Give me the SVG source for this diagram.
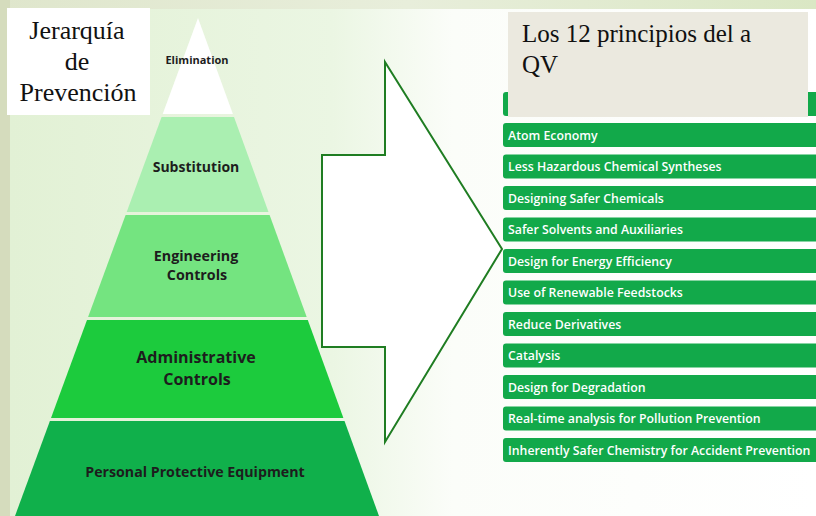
<svg xmlns="http://www.w3.org/2000/svg" width="816" height="516" viewBox="0 0 816 516">
<defs>
<linearGradient id="bg" x1="0" y1="0" x2="1" y2="0">
<stop offset="0" stop-color="#e2f1d5"/>
<stop offset="0.4" stop-color="#ebf6e3"/>
<stop offset="0.55" stop-color="#fbfdf9"/>
<stop offset="1" stop-color="#ffffff"/>
</linearGradient>
<linearGradient id="topstrip" x1="0" y1="0" x2="1" y2="0">
<stop offset="0" stop-color="#dfe6cc"/>
<stop offset="0.5" stop-color="#e8eedb"/>
<stop offset="1" stop-color="#dae7c4"/>
</linearGradient>
<style>
.tier-label{font-family:"Open Sans","Liberation Sans",sans-serif;font-weight:700;fill:#1d1d1d;text-anchor:middle}
.item rect{fill:#12a94a}
.item text{font-family:"Open Sans","Liberation Sans",sans-serif;font-weight:600;font-size:12.3px;fill:#ffffff}
.serif{font-family:"Liberation Serif","Times New Roman",serif;fill:#111111}
</style>
</defs>
<!-- background -->
<rect x="0" y="0" width="816" height="516" fill="url(#topstrip)"/>
<rect x="0" y="0" width="10" height="516" fill="#d5dcbd"/>
<rect x="10" y="9" width="806" height="507" fill="url(#bg)"/>

<!-- pyramid -->
<g id="tier-elimination">
<polygon points="198,18 232.9,114 162.7,114" fill="#ffffff"/>
<text class="tier-label" x="197" y="64" font-size="11">Elimination</text>
</g>
<g id="tier-substitution">
<polygon points="161.6,117 234,117 268.5,212 126.7,212" fill="#aaefb1"/>
<text class="tier-label" x="196" y="172" font-size="14">Substitution</text>
</g>
<g id="tier-engineering">
<polygon points="125.6,215 269.6,215 306.7,317 88.1,317" fill="#74e480"/>
<text class="tier-label" x="196" y="261" font-size="14.3">Engineering</text>
<text class="tier-label" x="197" y="280" font-size="14.3">Controls</text>
</g>
<g id="tier-administrative">
<polygon points="87,320 307.8,320 343.4,418 51,418" fill="#1ccb3d"/>
<text class="tier-label" x="196" y="363" font-size="16">Administrative</text>
<text class="tier-label" x="197" y="385" font-size="16">Controls</text>
</g>
<g id="tier-ppe">
<polygon points="49.9,421 344.5,421 379,516 15,516" fill="#10b04b"/>
<text class="tier-label" x="195" y="477" font-size="14.2">Personal Protective Equipment</text>
</g>

<!-- title box left -->
<g id="title-jerarquia">
<rect x="7" y="8" width="143" height="107" fill="#ffffff"/>
<text class="serif" x="77" y="39" font-size="26" text-anchor="middle">Jerarquía</text>
<text class="serif" x="77" y="70" font-size="26" text-anchor="middle">de</text>
<text class="serif" x="78" y="101" font-size="26" text-anchor="middle">Prevención</text>
</g>

<!-- connector: big arrow -->
<g id="connectors">
<polygon points="385,62 502,249 385,442 385,347 322,347 322,155 385,155" fill="#ffffff" stroke="#1f7d22" stroke-width="2" stroke-linejoin="miter"/>
</g>

<!-- list -->
<g id="header-bar" class="item"><rect x="503" y="92" width="320" height="24" rx="3"/></g>
<g id="title-principios">
<rect x="508" y="12" width="300" height="105" fill="#ebe9df"/>
<text class="serif" x="522" y="42" font-size="25">Los 12 principios del a</text>
<text class="serif" x="522" y="73" font-size="25">QV</text>
</g>
<g id="p1" class="item"><rect x="503" y="123" width="320" height="24" rx="3"/><text x="508" y="139.5">Atom Economy</text></g>
<g id="p2" class="item"><rect x="503" y="154.5" width="320" height="24" rx="3"/><text x="508" y="171">Less Hazardous Chemical Syntheses</text></g>
<g id="p3" class="item"><rect x="503" y="186" width="320" height="24" rx="3"/><text x="508" y="202.5">Designing Safer Chemicals</text></g>
<g id="p4" class="item"><rect x="503" y="217.5" width="320" height="24" rx="3"/><text x="508" y="234">Safer Solvents and Auxiliaries</text></g>
<g id="p5" class="item"><rect x="503" y="249" width="320" height="24" rx="3"/><text x="508" y="265.5">Design for Energy Efficiency</text></g>
<g id="p6" class="item"><rect x="503" y="280.5" width="320" height="24" rx="3"/><text x="508" y="297">Use of Renewable Feedstocks</text></g>
<g id="p7" class="item"><rect x="503" y="312" width="320" height="24" rx="3"/><text x="508" y="328.5">Reduce Derivatives</text></g>
<g id="p8" class="item"><rect x="503" y="343.5" width="320" height="24" rx="3"/><text x="508" y="360">Catalysis</text></g>
<g id="p9" class="item"><rect x="503" y="375" width="320" height="24" rx="3"/><text x="508" y="391.5">Design for Degradation</text></g>
<g id="p10" class="item"><rect x="503" y="406.5" width="320" height="24" rx="3"/><text x="508" y="423">Real-time analysis for Pollution Prevention</text></g>
<g id="p11" class="item"><rect x="503" y="438" width="320" height="24" rx="3"/><text x="508" y="454.5">Inherently Safer Chemistry for Accident Prevention</text></g>
</svg>
